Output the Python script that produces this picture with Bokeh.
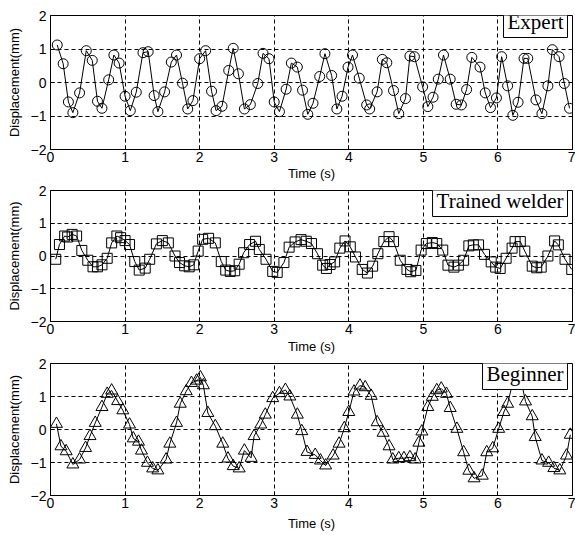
from bokeh.plotting import figure
from bokeh.layouts import column
from bokeh.models import FixedTicker, Label
from bokeh.embed import file_html
from bokeh.resources import INLINE

# ---- data (time in s, displacement in mm) ----
expert_t = [0.09, 0.17, 0.24, 0.30, 0.39, 0.48, 0.56, 0.63, 0.69, 0.78, 0.85, 0.92,
            1.00, 1.07, 1.15, 1.24, 1.31, 1.39, 1.44, 1.53, 1.62, 1.69, 1.77, 1.84, 1.91,
            2.00, 2.08, 2.16, 2.22, 2.30, 2.39, 2.45, 2.52, 2.60, 2.68, 2.78, 2.85, 2.93,
            3.00, 3.07, 3.16, 3.23, 3.31, 3.38, 3.45, 3.52, 3.61, 3.68, 3.77, 3.84, 3.91, 3.99,
            4.05, 4.14, 4.24, 4.28, 4.38, 4.45, 4.51, 4.60, 4.67, 4.76, 4.82, 4.88, 4.99,
            5.06, 5.13, 5.20, 5.27, 5.36, 5.44, 5.51, 5.58, 5.65, 5.76, 5.83, 5.90, 5.98,
            6.05, 6.13, 6.20, 6.27, 6.35, 6.40, 6.51, 6.59, 6.67, 6.73, 6.82, 6.89, 6.96]
expert_y = [1.12, 0.56, -0.58, -0.90, -0.31, 0.95, 0.66, -0.56, -0.77, 0.08, 0.82, 0.58,
            -0.41, -0.84, -0.29, 0.89, 0.92, -0.39, -0.87, -0.28, 0.61, 0.82, -0.02, -0.79, -0.54,
            0.71, 0.95, -0.26, -0.84, -0.71, 0.36, 1.02, 0.26, -0.79, -0.66, -0.03, 0.87, 0.71,
            -0.58, -0.87, -0.20, 0.58, 0.46, -0.23, -0.95, -0.62, 0.18, 0.86, 0.21, -0.79, -0.41, 0.46,
            0.82, 0.13, -0.67, -0.79, -0.28, 0.69, 0.59, -0.24, -0.93, -0.48, 0.79, 0.77, -0.13,
            -0.72, -0.44, 0.10, 0.82, 0.10, -0.65, -0.67, -0.21, 0.75, 0.46, -0.31, -0.75, -0.46,
            0.77, -0.10, -0.98, -0.59, 0.72, 0.72, -0.52, -0.93, -0.10, 0.98, 0.77, -0.03, -0.77]

trained_t = [0.07, 0.12, 0.19, 0.23, 0.29, 0.35, 0.42, 0.50, 0.57, 0.63, 0.69, 0.76, 0.82, 0.89, 0.94,
             1.00, 1.06, 1.13, 1.19, 1.27, 1.33, 1.42, 1.50, 1.58, 1.67, 1.73, 1.80, 1.86, 1.92, 1.98,
             2.04, 2.12, 2.21, 2.29, 2.35, 2.41, 2.47, 2.53, 2.59, 2.67, 2.75, 2.80, 2.89, 2.98,
             3.04, 3.13, 3.20, 3.28, 3.36, 3.43, 3.50, 3.58, 3.65, 3.70, 3.75, 3.81, 3.88, 3.95,
             4.02, 4.09, 4.18, 4.25, 4.32, 4.39, 4.47, 4.54, 4.60, 4.69, 4.78, 4.83, 4.90, 4.97,
             5.04, 5.12, 5.18, 5.26, 5.33, 5.41, 5.47, 5.54, 5.61, 5.67, 5.74, 5.82, 5.91, 5.97,
             6.03, 6.11, 6.19, 6.23, 6.30, 6.36, 6.46, 6.52, 6.58, 6.67, 6.76, 6.81, 6.90, 6.99]
trained_y = [-0.10, 0.35, 0.61, 0.58, 0.66, 0.61, 0.17, -0.13, -0.33, -0.33, -0.27, -0.07, 0.40, 0.61, 0.56,
             0.47, 0.35, -0.17, -0.43, -0.37, -0.10, 0.37, 0.47, 0.40, 0.00, -0.20, -0.30, -0.33, -0.27, 0.15,
             0.51, 0.54, 0.40, -0.17, -0.43, -0.47, -0.45, -0.25, 0.10, 0.35, 0.45, 0.20, -0.10, -0.47,
             -0.50, -0.20, 0.27, 0.43, 0.50, 0.45, 0.38, 0.07, -0.28, -0.38, -0.26, -0.18, 0.24, 0.46,
             0.28, -0.03, -0.41, -0.52, -0.31, 0.07, 0.44, 0.59, 0.44, -0.13, -0.41, -0.48, -0.44, 0.18,
             0.38, 0.41, 0.38, 0.18, -0.28, -0.34, -0.28, -0.13, 0.31, 0.34, 0.34, 0.05, -0.18, -0.34,
             -0.38, -0.07, 0.24, 0.44, 0.44, 0.15, -0.31, -0.36, -0.34, 0.00, 0.46, 0.34, -0.10, -0.41]

beginner_t = [0.08, 0.14, 0.21, 0.30, 0.39, 0.47, 0.53, 0.60, 0.69, 0.76, 0.82, 0.90, 0.97,
              1.06, 1.11, 1.18, 1.22, 1.30, 1.37, 1.44, 1.55, 1.60, 1.69, 1.74, 1.82, 1.89, 1.96,
              2.01, 2.05, 2.11, 2.21, 2.31, 2.38, 2.45, 2.53, 2.60, 2.69, 2.73, 2.82, 2.88, 2.98,
              3.07, 3.15, 3.21, 3.31, 3.37, 3.44, 3.55, 3.62, 3.69, 3.79, 3.87, 3.94,
              4.00, 4.07, 4.15, 4.22, 4.30, 4.38, 4.46, 4.54, 4.59, 4.67, 4.74, 4.82, 4.89, 4.94, 4.98,
              5.06, 5.12, 5.18, 5.24, 5.31, 5.36, 5.45, 5.54, 5.61, 5.68, 5.79, 5.85, 5.93,
              6.01, 6.08, 6.13, 6.19, 6.28, 6.32, 6.37, 6.46, 6.50, 6.59, 6.68, 6.75, 6.83, 6.92, 6.97]
beginner_y = [0.17, -0.51, -0.66, -1.06, -0.91, -0.56, -0.20, 0.20, 0.68, 1.08, 1.18, 0.86, 0.58,
              0.15, -0.27, -0.37, -0.64, -1.01, -1.18, -1.24, -0.91, -0.43, 0.20, 0.78, 1.16, 1.41, 1.48,
              1.58, 1.34, 0.50, 0.10, -0.43, -0.88, -1.11, -1.18, -0.64, -0.86, -0.20, 0.15, 0.45, 0.95,
              1.10, 1.20, 1.00, 0.45, -0.05, -0.68, -0.77, -0.94, -1.09, -0.79, -0.43, 0.04,
              0.53, 1.15, 1.33, 1.28, 1.02, 0.22, -0.10, -0.51, -0.91, -0.87, -0.87, -0.84, -0.91, -0.40, -0.06,
              0.68, 0.99, 1.19, 1.24, 1.08, 0.65, 0.02, -0.69, -1.25, -1.48, -1.40, -0.69, -0.57,
              0.02, 0.53, 0.78, 1.34, 1.43, 1.38, 0.85, 0.40, -0.23, -0.94, -1.01, -1.17, -1.24, -0.79, -0.16]

x_ticks = [0, 1, 2, 3, 4, 5, 6, 7]
y_ticks = [-2, -1, 0, 1, 2]
x_label = "Time (s)"
y_label = "Displacement(mm)"


def make_panel(t, y, marker, msize, name, height, top, bottom, xstand, box_rise):
    p = figure(width=575, height=height, x_range=(0, 7), y_range=(-2, 2),
               output_backend="svg", toolbar_location=None,
               min_border_left=50, min_border_right=3,
               min_border_top=top, min_border_bottom=bottom,
               background_fill_color="white", border_fill_color="white")
    p.outline_line_color = "black"
    p.outline_line_width = 1
    p.outline_line_alpha = 1

    for ax in (p.xaxis, p.yaxis):
        ax.axis_line_color = "black"
        ax.major_tick_line_color = "black"
        ax.major_tick_in = 4
        ax.major_tick_out = 0
        ax.minor_tick_line_color = None
        ax.major_label_text_font = "Liberation Sans"
        ax.major_label_text_font_size = "14px"
        ax.major_label_text_color = "black"
        ax.axis_label_text_font = "Liberation Sans"
        ax.axis_label_text_font_size = "13px"
        ax.axis_label_text_font_style = "normal"
        ax.axis_label_text_color = "black"
    p.xaxis.ticker = FixedTicker(ticks=x_ticks)
    p.yaxis.ticker = FixedTicker(ticks=y_ticks)
    p.xaxis.major_label_standoff = 2
    p.yaxis.major_label_standoff = 4
    p.xaxis.axis_label = x_label
    p.yaxis.axis_label = y_label
    p.xaxis.axis_label_standoff = xstand
    p.yaxis.axis_label_standoff = 6

    p.xgrid.ticker = FixedTicker(ticks=x_ticks)
    p.ygrid.ticker = FixedTicker(ticks=y_ticks)
    for g in (p.xgrid, p.ygrid):
        g.grid_line_color = "black"
        g.grid_line_alpha = 1
        g.grid_line_dash = "4 3"
        g.grid_line_width = 1

    p.line(t, y, line_color="black", line_width=1)
    p.scatter(t, y, marker=marker, size=msize, fill_color=None,
              line_color="black", line_width=1)

    lab = Label(x=7, y=2, x_units="data", y_units="data", x_offset=-5, y_offset=box_rise,
                text=name, text_font="Liberation Serif", text_font_size="21px",
                text_color="black", anchor="top_right",
                background_fill_color="white", background_fill_alpha=1,
                border_line_color="black", border_line_width=1, padding=4)
    p.add_layout(lab)
    return p


p1 = make_panel(expert_t, expert_y, "circle", 10, "Expert", 183, 15, 34, 1, 10)
p2 = make_panel(trained_t, trained_y, "square", 10, "Trained welder", 173, 7, 34, 2, 6)
p3 = make_panel(beginner_t, beginner_y, "triangle", 12, "Beginner", 179, 7, 40, 5, 6)

layout = column(p1, p2, p3)
open("out.html", "w").write(file_html(layout, INLINE))
